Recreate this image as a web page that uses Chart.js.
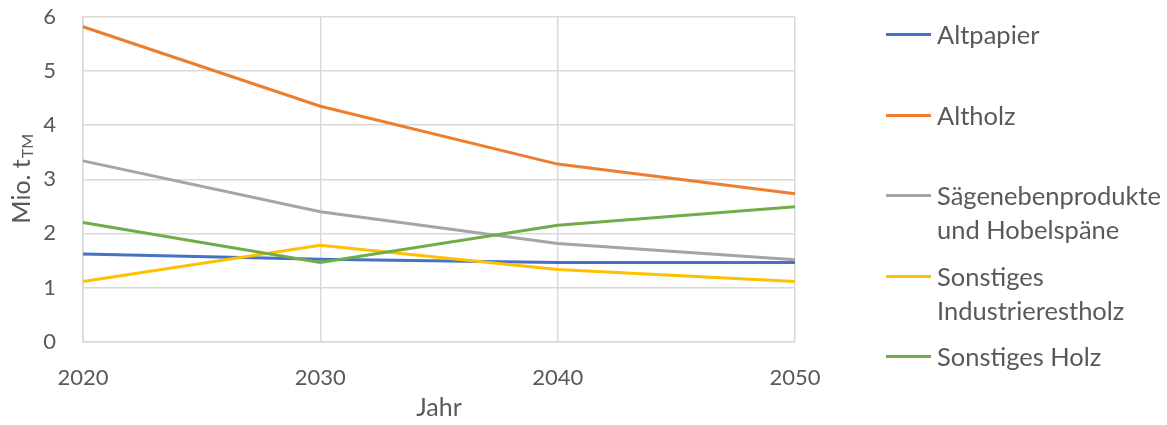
<!DOCTYPE html>
<html>
<head>
<meta charset="utf-8">
<script src="https://cdn.jsdelivr.net/npm/chart.js@4"></script>
<style>
  body { margin: 0; background: #fff; }
  #wrap { position: relative; width: 1167px; height: 425px; }
  .item { position: absolute; left: 886px; display: flex; align-items: flex-start;
          font-family: Lato, sans-serif; font-size: 25.5px; color: #595959; line-height: 34px; }
  .swatch { width: 45px; height: 3px; margin-top: 16px; margin-right: 6px; }
</style>
</head>
<body>
<div id="wrap">
  <canvas id="chart" width="1167" height="425"></canvas>
  <div id="legend"></div>
</div>
<script>
const years = ['2020', '2030', '2040', '2050'];
const seriesNames = ['Altpapier', 'Altholz', 'Sägenebenprodukte\nund Hobelspäne', 'Sonstiges\nIndustrierestholz', 'Sonstiges Holz'];
const altpapier = [1.62, 1.52, 1.46, 1.46];
const altholz = [5.82, 4.35, 3.28, 2.73];
const saegeneben = [3.34, 2.40, 1.81, 1.51];
const industrierest = [1.11, 1.78, 1.33, 1.11];
const sonstHolz = [2.20, 1.46, 2.15, 2.49];
const yTicks = [0, 1, 2, 3, 4, 5, 6];

const colors = ['#4472C4', '#ED7D31', '#A5A5A5', '#FFC000', '#70AD47'];
const values = [altpapier, altholz, saegeneben, industrierest, sonstHolz];
const txt = '#595959';
const grid = '#d9d9d9';

// y-Achsentitel mit tiefgestelltem "TM"
const yTitle = {
  id: 'yTitle',
  afterDraw(chart) {
    const ctx = chart.ctx;
    const cy = (chart.chartArea.top + chart.chartArea.bottom) / 2;
    ctx.save();
    ctx.translate(22, cy);
    ctx.rotate(-Math.PI / 2);
    ctx.fillStyle = txt;
    ctx.textBaseline = 'middle';
    ctx.font = '25px Lato';
    const main = 'Mio. t';
    const w1 = ctx.measureText(main).width;
    ctx.font = '16px Lato';
    const w2 = ctx.measureText('TM').width;
    let x = -(w1 + w2) / 2;
    ctx.font = '25px Lato';
    ctx.fillText(main, x, 0);
    ctx.font = '16px Lato';
    ctx.fillText('TM', x + w1 + 1, 6);
    ctx.restore();
  }
};

const chart = new Chart(document.getElementById('chart'), {
  type: 'line',
  data: {
    labels: years,
    datasets: values.map((v, i) => ({
      label: seriesNames[i],
      data: v,
      borderColor: colors[i],
      backgroundColor: colors[i],
      borderWidth: 3,
      pointRadius: 0,
      tension: 0,
      order: values.length - i
    }))
  },
  options: {
    responsive: false,
    animation: false,
    layout: { padding: { top: 17, right: 372, left: 0, bottom: 0 } },
    plugins: { legend: { display: false }, tooltip: { enabled: false } },
    scales: {
      x: {
        offset: false,
        afterFit(scale) { scale.height = 83.5; },
        grid: { color: grid, lineWidth: 1.5, drawTicks: false },
        border: { color: grid, width: 1.5 },
        ticks: { color: txt, font: { family: 'Lato', size: 22 }, padding: 23, maxRotation: 0 },
        title: { display: true, text: 'Jahr', color: txt, font: { family: 'Lato', size: 25 }, padding: 2 }
      },
      y: {
        min: 0,
        max: 6,
        afterFit(scale) { scale.width = 83; scale.paddingTop = 0; scale.paddingBottom = 0; },
        afterBuildTicks(scale) { scale.ticks = yTicks.map(v => ({ value: v })); },
        grid: { color: grid, lineWidth: 1.5, drawTicks: false },
        border: { color: grid, width: 1.5 },
        ticks: { color: txt, font: { family: 'Lato', size: 22 }, padding: 27 }
      }
    }
  },
  plugins: [yTitle]
});

// Legende rechts, Abstände wie im Original
const legend = document.getElementById('legend');
chart.data.datasets.forEach((ds, i) => {
  const item = document.createElement('div');
  item.className = 'item';
  item.style.top = (34 + i * 80.5 - 17) + 'px';
  const sw = document.createElement('div');
  sw.className = 'swatch';
  sw.style.background = ds.borderColor;
  const label = document.createElement('div');
  label.innerHTML = ds.label.split('\n').join('<br>');
  item.appendChild(sw);
  item.appendChild(label);
  legend.appendChild(item);
});
</script>
</body>
</html>
